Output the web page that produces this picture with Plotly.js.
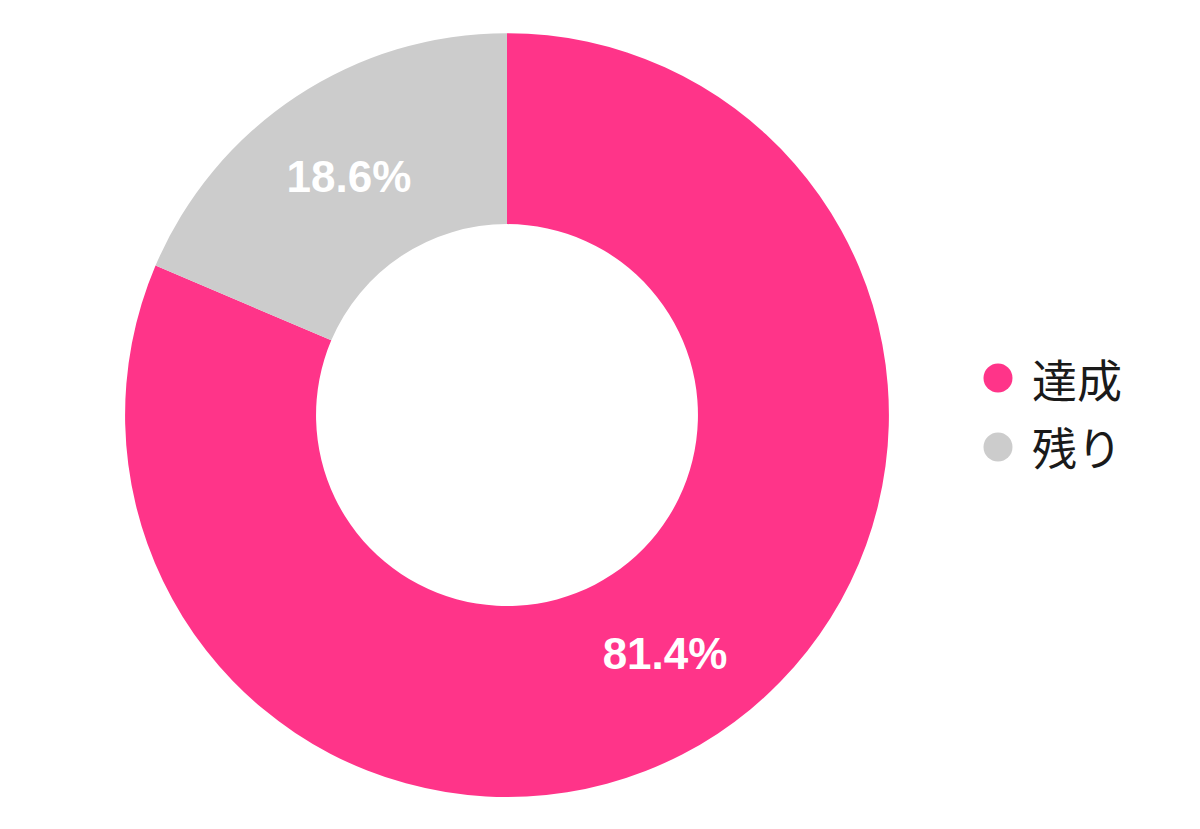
<!DOCTYPE html>
<html>
<head>
<meta charset="utf-8">
<script src="https://cdn.plot.ly/plotly-3.0.1.min.js"></script>
<style>html,body{margin:0;padding:0;background:#fff;}#chart{width:1200px;height:829px;}</style>
</head>
<body>
<div id="chart"></div>
<script>
const categories = ['達成', '残り'];
const values = [81.4, 18.6];
const colors = ['#FF3489', '#CCCCCC'];

const W = 1200, H = 829;

const pie = {
  type: 'pie',
  labels: categories,
  values: values,
  hole: 0.5,
  sort: false,
  direction: 'clockwise',
  rotation: 0,
  marker: {colors: colors, line: {width: 0}},
  texttemplate: '%{percent:.1%}',
  textposition: 'inside',
  insidetextorientation: 'horizontal',
  textfont: {family: 'Liberation Sans, Arial, sans-serif', size: 44, color: '#FFFFFF', weight: 'bold'},
  showlegend: false,
  domain: {x: [0.1042, 0.7408], y: [0.0386, 0.960]},
  hoverinfo: 'label+percent'
};

// custom legend (circle markers + labels), laid out in paper coordinates
const legX = 998, legY0 = 378, legGap = 69, legR = 14.5, legTextX = 1030;
const shapes = categories.map((c, i) => {
  const cy = legY0 + i * legGap;
  return {
    type: 'circle', xref: 'paper', yref: 'paper',
    x0: (legX - legR) / W, x1: (legX + legR) / W,
    y0: (H - cy - legR) / H, y1: (H - cy + legR) / H,
    fillcolor: colors[i], line: {width: 0}
  };
});
const annotations = categories.map((c, i) => {
  const cy = legY0 + i * legGap;
  return {
    text: c, xref: 'paper', yref: 'paper',
    x: legTextX / W, y: (H - cy) / H,
    xanchor: 'left', yanchor: 'middle', showarrow: false,
    font: {family: 'Noto Sans CJK JP, sans-serif', size: 45, color: '#1A1A1A'}
  };
});

const layout = {
  width: W, height: H,
  margin: {l: 0, r: 0, t: 0, b: 0},
  paper_bgcolor: '#FFFFFF',
  plot_bgcolor: '#FFFFFF',
  showlegend: false,
  shapes: shapes,
  annotations: annotations
};

Plotly.newPlot('chart', [pie], layout, {displayModeBar: false});
</script>
</body>
</html>
